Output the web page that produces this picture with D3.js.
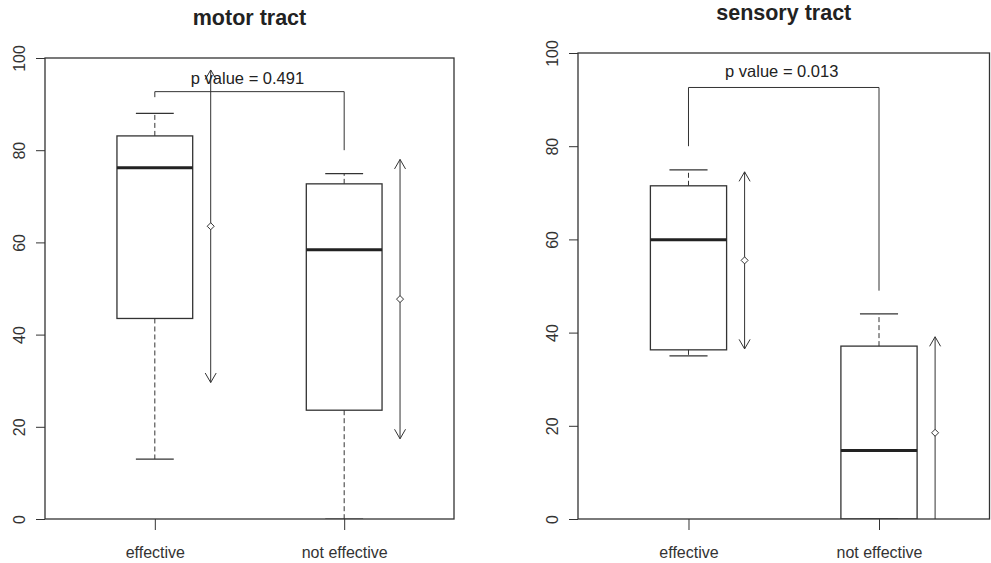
<!DOCTYPE html>
<html>
<head>
<meta charset="utf-8">
<script src="https://cdn.jsdelivr.net/npm/d3@7"></script>
<style>
  html, body { margin: 0; padding: 0; background: #fff; }
  svg { display: block; font-family: "Liberation Sans", Arial, sans-serif; }
</style>
</head>
<body>
<svg id="chart" width="991" height="563"></svg>
<script>
const categories = ["effective", "not effective"]
const yTicks = [0, 20, 40, 60, 80, 100]

// box stats per group: [min, q1, median, q3, max]
const motorBoxes = [
  [13, 43.5, 76.2, 83.1, 88.0],
  [0, 23.6, 58.4, 72.7, 74.9]
]
const sensoryBoxes = [
  [35.0, 36.3, 59.9, 71.5, 74.9],
  [0, 0, 14.7, 37.1, 44.0]
]

// mean and sd (arrows)
const motorMeans = [63.5, 47.7]
const motorSds = [33.9, 30.3]
const sensoryMeans = [55.5, 18.5]
const sensorySds = [19.0, 20.6]

// bracket: [bar height, left foot, right foot]
const motorBracket = [92.7, 91.5, 80]
const sensoryBracket = [92.6, 80, 49]
const motorP = "p value = 0.491"
const sensoryP = "p value = 0.013"

const ink = "#333"
const svg = d3.select("#chart")

const panels = [
  { title: "motor tract", boxes: motorBoxes, means: motorMeans, sds: motorSds,
    bracket: motorBracket, pText: motorP, pY: 94.3,
    left: 45, right: 454, top: 58, bottom: 519, titleY: 25 },
  { title: "sensory tract", boxes: sensoryBoxes, means: sensoryMeans, sds: sensorySds,
    bracket: sensoryBracket, pText: sensoryP, pY: 94.9,
    left: 578, right: 989.5, top: 53, bottom: 519, titleY: 20 }
]

panels.forEach((p, pi) => drawPanel(p, pi))

function drawPanel(p, pi) {
  const x = d3.scalePoint().domain(categories).range([p.left, p.right]).padding(0.58)
  const y = d3.scaleLinear().domain([0, 100]).range([p.bottom, p.top])
  const boxW = x.step() * 0.4

  const g = svg.append("g")

  svg.append("clipPath").attr("id", "clip" + pi)
    .append("rect")
    .attr("x", p.left).attr("y", p.top)
    .attr("width", p.right - p.left).attr("height", p.bottom - p.top)

  // title
  g.append("text")
    .attr("x", (p.left + p.right) / 2)
    .attr("y", p.titleY)
    .attr("text-anchor", "middle")
    .style("font-size", "21.5px")
    .style("font-weight", "bold")
    .style("fill", "#222")
    .text(p.title)

  // y axis, labels rotated like R
  const yAxis = g.append("g")
    .attr("transform", `translate(${p.left},0)`)
    .call(d3.axisLeft(y).tickValues(yTicks).tickSize(9))
  yAxis.select(".domain").remove()
  yAxis.selectAll("line").attr("stroke", ink)
  yAxis.selectAll("text")
    .attr("transform", "rotate(-90)")
    .attr("x", 0).attr("y", -20).attr("dy", 0)
    .attr("text-anchor", "middle")
    .style("font-size", "16px")
    .style("font-family", "Liberation Sans, Arial, sans-serif")
    .attr("fill", ink)

  // x axis
  const xAxis = g.append("g")
    .attr("transform", `translate(0,${p.bottom})`)
    .call(d3.axisBottom(x).tickSize(11))
  xAxis.select(".domain").remove()
  xAxis.selectAll("line").attr("stroke", ink)
  xAxis.selectAll("text")
    .attr("y", 39).attr("dy", 0)
    .style("font-size", "16px")
    .style("font-family", "Liberation Sans, Arial, sans-serif")
    .attr("fill", ink)

  const plot = g.append("g").attr("clip-path", `url(#clip${pi})`)

  // boxes
  p.boxes.forEach((b, i) => {
    const cx = x(categories[i])
    const [mn, q1, med, q3, mx] = b
    const bg = plot.append("g")

    // whiskers
    bg.append("line")
      .attr("x1", cx).attr("x2", cx).attr("y1", y(q3)).attr("y2", y(mx))
      .attr("stroke", ink).attr("stroke-dasharray", "5,3")
    bg.append("line")
      .attr("x1", cx).attr("x2", cx).attr("y1", y(q1)).attr("y2", y(mn))
      .attr("stroke", ink).attr("stroke-dasharray", "5,3")
    ;[mn, mx].forEach(v => {
      bg.append("line")
        .attr("x1", cx - boxW / 4).attr("x2", cx + boxW / 4)
        .attr("y1", y(v)).attr("y2", y(v))
        .attr("stroke", ink).attr("stroke-width", 1.2)
    })

    bg.append("rect")
      .attr("x", cx - boxW / 2).attr("width", boxW)
      .attr("y", y(q3)).attr("height", y(q1) - y(q3))
      .attr("fill", "none").attr("stroke", ink).attr("stroke-width", 1.3)

    bg.append("line")
      .attr("x1", cx - boxW / 2).attr("x2", cx + boxW / 2)
      .attr("y1", y(med)).attr("y2", y(med))
      .attr("stroke", "#222").attr("stroke-width", 3)
  })

  // mean +/- sd arrows
  const headLen = 11, headAng = Math.PI / 6
  p.means.forEach((m, i) => {
    const ax = x(categories[i]) + boxW / 2 + 18
    const yTop = y(m + p.sds[i])
    const yBot = y(m - p.sds[i])
    const dx = headLen * Math.sin(headAng), dy = headLen * Math.cos(headAng)
    const ag = plot.append("g").attr("stroke", ink).attr("fill", "none")

    ag.append("line").attr("x1", ax).attr("x2", ax).attr("y1", yTop).attr("y2", yBot)
    ag.append("path").attr("d", `M${ax - dx},${yTop + dy}L${ax},${yTop}L${ax + dx},${yTop + dy}`)
    ag.append("path").attr("d", `M${ax - dx},${yBot - dy}L${ax},${yBot}L${ax + dx},${yBot - dy}`)

    const cy = y(m)
    ag.append("path")
      .attr("d", `M${ax},${cy - 3.5}L${ax + 3.5},${cy}L${ax},${cy + 3.5}L${ax - 3.5},${cy}Z`)
      .attr("fill", "#fff")
  })

  // p value bracket
  const [bh, lf, rf] = p.bracket
  const x1 = x(categories[0]), x2 = x(categories[1])
  plot.append("path")
    .attr("d", `M${x1},${y(lf)}L${x1},${y(bh)}L${x2},${y(bh)}L${x2},${y(rf)}`)
    .attr("fill", "none").attr("stroke", ink)

  plot.append("text")
    .attr("x", (x1 + x2) / 2 - 2)
    .attr("y", y(p.pY))
    .attr("text-anchor", "middle")
    .style("font-size", "16.5px")
    .style("fill", "#222")
    .text(p.pText)

  // frame
  g.append("rect")
    .attr("x", p.left).attr("y", p.top)
    .attr("width", p.right - p.left).attr("height", p.bottom - p.top)
    .attr("fill", "none").attr("stroke", ink).attr("stroke-width", 1.3)
}
</script>
</body>
</html>
